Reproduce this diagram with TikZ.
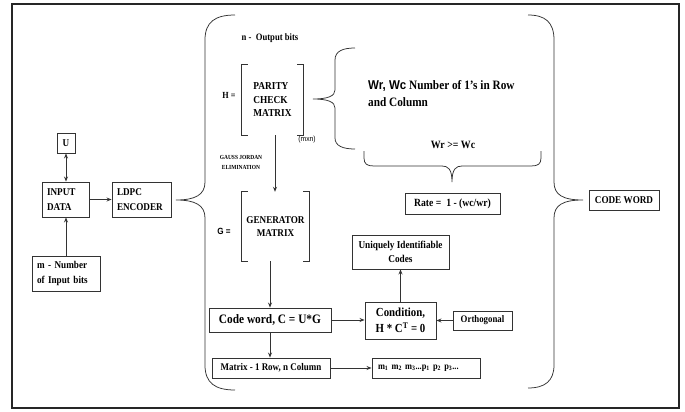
\documentclass[tikz,border=0pt]{standalone}
\usepackage{fontspec}
\setmainfont{Liberation Serif}[FakeStretch=0.88]
\setsansfont{Liberation Sans}[FakeStretch=0.9]
\usetikzlibrary{arrows.meta}
\definecolor{ln}{HTML}{333333}
\newcommand{\fs}[2]{\fontsize{#1}{#2}\selectfont}
\tikzset{
  box/.style={draw=ln, line width=0.9pt, inner sep=0pt, font=\bfseries\fs{10.4}{15}},
  lbl/.style={inner sep=0pt, font=\bfseries\fs{10.4}{15}},
  conn/.style={draw=ln, line width=0.9pt, -{Stealth[length=5pt,width=4pt]}},
  dconn/.style={draw=ln, line width=0.9pt, {Stealth[length=5pt,width=4pt]}-{Stealth[length=5pt,width=4pt]}},
  brk/.style={draw=ln, line width=0.7pt},
  brace/.style={draw=ln, line width=0.75pt},
}
\begin{document}
\begin{tikzpicture}[x=1pt,y=-1pt]
\useasboundingbox (0,0) rectangle (685,412);
\fill[white] (0,0) rectangle (685,412);
\draw[line width=2pt, draw=black!85] (12,4) rectangle (679,408);

% left part
\node[box, minimum width=18pt, minimum height=20pt] (u) at (66,143) {U};
\node[box, minimum width=47pt, minimum height=35pt, text width=37pt, align=left] (input) at (65.5,199.5) {INPUT\\DATA};
\node[box, minimum width=59pt, minimum height=35pt, text width=49pt, align=left] (ldpc) at (141.5,199.5) {LDPC\\ENCODER};
\node[box, minimum width=68pt, minimum height=35pt, text width=58pt, align=left] (mbits) at (66,273.5) {m - Number\\of Input bits};

\draw[dconn] (u.south) -- (u.south |- input.north);
\draw[conn] (input) -- (ldpc);
\draw[conn] (mbits.north) -- (mbits.north |- input.south);

% left big brace
\draw[brace] (235,15) .. controls (215,15) and (205,22) .. (205,40) -- (205,182) .. controls (205,195) and (195,200) .. (176,200) .. controls (195,200) and (205,205) .. (205,218) -- (205,365) .. controls (205,383) and (215,390) .. (235,390);

% H matrix
\node[lbl, font=\bfseries\fs{9.8}{11}] (nbits) at (270,38) {n -\ \ Output bits};
\node[lbl, font=\bfseries\fs{9.3}{11}] (heq) at (229,95) {H =};
\node[lbl, align=left, minimum width=61pt, minimum height=70pt, font=\bfseries\fs{10.6}{13.5}] (hmat) at (272.5,100) {PARITY\\CHECK\\MATRIX};
\draw[brk] ([xshift=6pt]hmat.north west) -- (hmat.north west) -- (hmat.south west) -- ([xshift=6pt]hmat.south west);
\draw[brk] ([xshift=-6pt]hmat.north east) -- (hmat.north east) -- (hmat.south east) -- ([xshift=-6pt]hmat.south east);
\node[inner sep=0pt, font=\sffamily\fs{7.5}{9}] (mxn) at (307,140) {(mxn)};
\node[lbl, align=center, font=\bfseries\fs{6.2}{10}] (gauss) at (241,162) {GAUSS JORDAN\\ELIMINATION};

% G matrix
\node[inner sep=0pt, font=\sffamily\bfseries\fs{9}{10}] (geq) at (224,231) {G =};
\node[lbl, align=center, minimum width=67pt, minimum height=69pt, font=\bfseries\fs{10.4}{13}] (gmat) at (275.5,226.5) {GENERATOR\\MATRIX};
\draw[brk] ([xshift=6pt]gmat.north west) -- (gmat.north west) -- (gmat.south west) -- ([xshift=6pt]gmat.south west);
\draw[brk] ([xshift=-6pt]gmat.north east) -- (gmat.north east) -- (gmat.south east) -- ([xshift=-6pt]gmat.south east);

\draw[conn] ([xshift=2.5pt]hmat.south) -- ([xshift=2.5pt]hmat.south |- gmat.north);

% H brace and weights
\draw[brace] (355,48) .. controls (343,48) and (335,51) .. (335,60) -- (335,90) .. controls (335,96) and (328,99) .. (313,99) .. controls (328,99) and (335,102) .. (335,108) -- (335,138) .. controls (335,146) and (343,149) .. (355,149);
\node[lbl, anchor=west, align=left, font=\bfseries\fs{12.8}{17}] (wrwc) at (368,93.5) {{\sffamily Wr, Wc} Number of 1's in Row\\and Column};
\node[lbl, font=\bfseries\fs{11.2}{12}] (wrge) at (453,145) {Wr >= Wc};
\draw[brace] (364,151) -- (364,158) .. controls (364,164) and (367,166) .. (374,166) -- (442,166) .. controls (448,166) and (452,169) .. (452,182) .. controls (452,169) and (456,166) .. (462,166) -- (531,166) .. controls (538,166) and (541,164) .. (541,158) -- (541,151);
\node[box, minimum width=95pt, minimum height=21pt, font=\bfseries\fs{11}{12}] (rate) at (452.5,203.5) {Rate =\ \ 1 - (wc/wr)};

% code word chain
\node[box, minimum width=122pt, minimum height=24pt, font=\bfseries\fs{12.9}{14}] (cw) at (270,320) {Code word, C = U*G};
\node[box, minimum width=118pt, minimum height=20pt, font=\bfseries\fs{10.2}{12}] (mat) at (271,368) {Matrix - 1 Row, n Column};
\node[box, minimum width=71pt, minimum height=37pt, align=center, font=\bfseries\fs{12.3}{16}] (cond) at (400.5,320.5) {Condition,\\H * C\textsuperscript{T} = 0};
\node[box, minimum width=97pt, minimum height=34pt, align=center, font=\bfseries\fs{10.5}{14}] (uniq) at (400.5,252) {Uniquely Identifiable\\Codes};
\node[box, minimum width=59pt, minimum height=19pt, font=\bfseries\fs{10}{11}] (orth) at (482.5,320.5) {Orthogonal};
\node[box, minimum width=108pt, minimum height=20pt, text width=96pt, align=left, font=\bfseries\fs{9.5}{11}] (mseq) at (426,368) {m\textsubscript{1} m\textsubscript{2} m\textsubscript{3}...p\textsubscript{1} p\textsubscript{2} p\textsubscript{3}...};

\draw[conn] (gmat.south -| cw.north) -- (cw.north);
\draw[conn] (cw.south) -- (cw.south |- mat.north);
\draw[conn] (cw.east) -- (cw.east -| cond.west);
\draw[conn] (cond.north) -- (uniq.south);
\draw[conn] (orth.west) -- (cond.east);
\draw[conn] (mat.east) -- (mat.east -| mseq.west);

% right big brace and code word
\draw[brace] (528,15) .. controls (545,15) and (554,22) .. (554,40) -- (554,182) .. controls (554,195) and (563,200) .. (583,200) .. controls (563,200) and (554,205) .. (554,218) -- (554,365) .. controls (554,381) and (545,388) .. (528,388);
\node[box, minimum width=70pt, minimum height=20pt, font=\bfseries\fs{10.4}{12}] (codew) at (624,200) {CODE WORD};
\end{tikzpicture}
\end{document}
